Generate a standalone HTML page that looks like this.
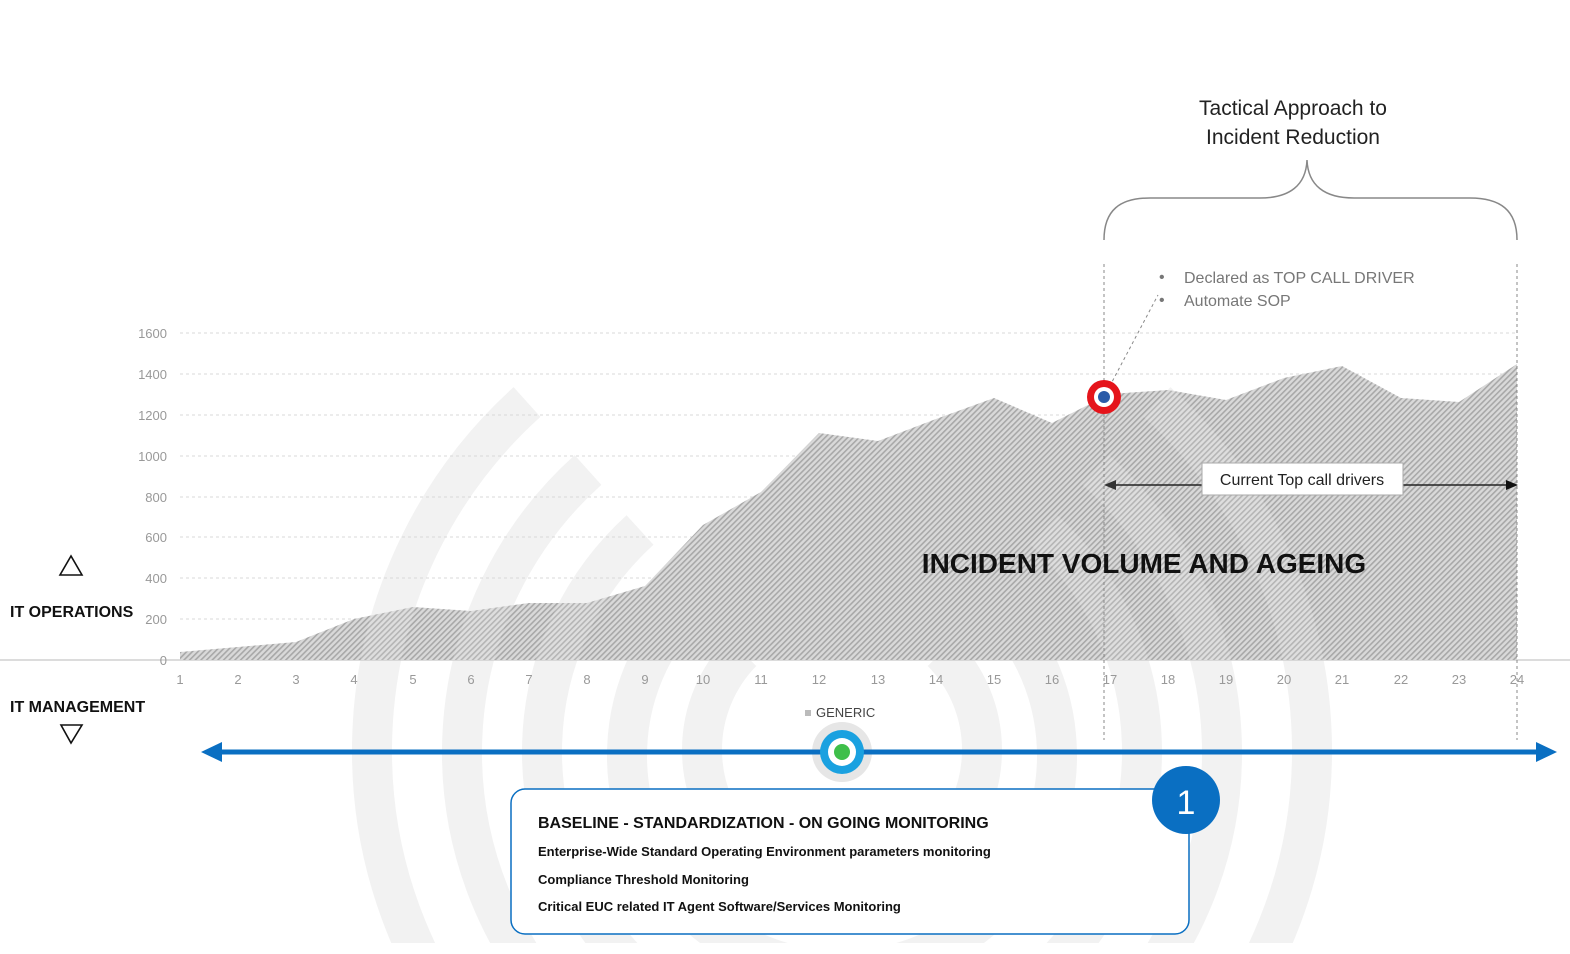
<!DOCTYPE html>
<html><head><meta charset="utf-8"><style>
html,body{margin:0;padding:0;background:#fff;width:1570px;height:954px;overflow:hidden}
svg{display:block}
text{font-family:"Liberation Sans",sans-serif}
</style></head><body>
<svg width="1570" height="954" viewBox="0 0 1570 954" xmlns="http://www.w3.org/2000/svg">
<defs>
<pattern id="h" width="4" height="4" patternUnits="userSpaceOnUse" patternTransform="rotate(45)">
<rect width="4" height="4" fill="#d9d9d9"/><rect width="1.6" height="4" fill="#a8a8a8"/>
</pattern>
<clipPath id="c"><rect x="0" y="0" width="1570" height="943"/></clipPath>
<clipPath id="a"><polygon points="180,660 180,652 238,647 296,642 354,619 413,607 471,611 529,603 587,603 645,586 703,525 761,492 819,433 878,441 936,419 994,398 1052,423 1110,394 1168,390 1226,400 1284,378 1342,366 1401,398 1459,402 1517,364 1517,660"/></clipPath>
</defs>
<g clip-path="url(#c)" fill="none" stroke="#f2f2f2" stroke-width="40">
<path d="M 527 402 A 470 470 0 1 0 1157 402"/>
<path d="M 588 470 A 380 380 0 1 0 1096 470"/>
<path d="M 640 530 A 300 300 0 1 0 1044 530"/>
<path d="M 698 596 A 215 215 0 1 0 986 596"/>
<path d="M 742 652 A 140 140 0 1 0 942 652"/>
</g>
<circle cx="842" cy="752" r="30" fill="#e6e6e6"/>
<g stroke="#d8d8d8" stroke-dasharray="3,3" stroke-width="1">
<line x1="180" y1="333" x2="1517" y2="333"/><line x1="180" y1="374" x2="1517" y2="374"/>
<line x1="180" y1="415" x2="1517" y2="415"/><line x1="180" y1="456" x2="1517" y2="456"/>
<line x1="180" y1="497" x2="1517" y2="497"/><line x1="180" y1="537" x2="1517" y2="537"/>
<line x1="180" y1="578" x2="1517" y2="578"/><line x1="180" y1="619" x2="1517" y2="619"/>
</g>
<line x1="0" y1="660" x2="1570" y2="660" stroke="#d0d0d0" stroke-width="1.5"/>
<polygon fill="url(#h)" points="180,660 180,652 238,647 296,642 354,619 413,607 471,611 529,603 587,603 645,586 703,525 761,492 819,433 878,441 936,419 994,398 1052,423 1110,394 1168,390 1226,400 1284,378 1342,366 1401,398 1459,402 1517,364 1517,660"/>
<g clip-path="url(#a)" fill="none" stroke="#fff" stroke-opacity="0.15" stroke-width="40">
<path d="M 527 402 A 470 470 0 1 0 1157 402"/>
<path d="M 588 470 A 380 380 0 1 0 1096 470"/>
<path d="M 640 530 A 300 300 0 1 0 1044 530"/>
</g>
<g font-size="13" fill="#999" text-anchor="end">
<text x="167" y="338">1600</text><text x="167" y="379">1400</text><text x="167" y="420">1200</text>
<text x="167" y="461">1000</text><text x="167" y="502">800</text><text x="167" y="542">600</text>
<text x="167" y="583">400</text><text x="167" y="624">200</text><text x="167" y="665">0</text>
</g>
<g font-size="13" fill="#999" text-anchor="middle">
<text x="180" y="684">1</text><text x="238" y="684">2</text><text x="296" y="684">3</text><text x="354" y="684">4</text>
<text x="413" y="684">5</text><text x="471" y="684">6</text><text x="529" y="684">7</text><text x="587" y="684">8</text>
<text x="645" y="684">9</text><text x="703" y="684">10</text><text x="761" y="684">11</text><text x="819" y="684">12</text>
<text x="878" y="684">13</text><text x="936" y="684">14</text><text x="994" y="684">15</text><text x="1052" y="684">16</text>
<text x="1110" y="684">17</text><text x="1168" y="684">18</text><text x="1226" y="684">19</text><text x="1284" y="684">20</text>
<text x="1342" y="684">21</text><text x="1401" y="684">22</text><text x="1459" y="684">23</text><text x="1517" y="684">24</text>
</g>
<g stroke="#888" stroke-dasharray="3,3" stroke-width="1">
<line x1="1104" y1="264" x2="1104" y2="740"/><line x1="1517" y1="264" x2="1517" y2="740"/>
<line x1="1104" y1="397" x2="1158" y2="295"/>
</g>
<path d="M1104 240 C1104 210 1120 198 1150 198 L1260 198 C1290 198 1306 185 1307 160 C1308 185 1324 198 1354 198 L1470 198 C1500 198 1517 210 1517 240" fill="none" stroke="#888" stroke-width="1.5"/>
<text x="1293" y="115" font-size="21" fill="#222" text-anchor="middle">Tactical Approach to</text>
<text x="1293" y="144" font-size="21" fill="#222" text-anchor="middle">Incident Reduction</text>
<g font-size="16" fill="#777">
<text x="1159" y="282">•</text><text x="1184" y="283">Declared as TOP CALL DRIVER</text>
<text x="1159" y="305">•</text><text x="1184" y="306">Automate SOP</text>
</g>
<circle cx="1104" cy="397" r="17" fill="#e5141b"/><circle cx="1104" cy="397" r="10" fill="#fff"/><circle cx="1104" cy="397" r="6" fill="#2a5ba8"/>
<line x1="1112" y1="485" x2="1512" y2="485" stroke="#222" stroke-width="1.5"/>
<polygon points="1104,485 1116,480 1116,490" fill="#333"/><polygon points="1518,485 1506,480 1506,490" fill="#111"/>
<rect x="1202" y="463" width="201" height="32" fill="#fff" stroke="#aaa"/>
<text x="1302" y="485" font-size="16" fill="#222" text-anchor="middle">Current Top call drivers</text>
<text x="1144" y="573" font-size="28" font-weight="bold" fill="#111" text-anchor="middle">INCIDENT VOLUME AND AGEING</text>
<polygon points="71,556 60,575 82,575" fill="none" stroke="#111" stroke-width="1.6"/>
<text x="10" y="617" font-size="16" font-weight="bold" fill="#111">IT OPERATIONS</text>
<text x="10" y="712" font-size="16" font-weight="bold" fill="#111">IT MANAGEMENT</text>
<polygon points="61,725 82,725 71,743" fill="none" stroke="#111" stroke-width="1.6"/>
<line x1="215" y1="752" x2="1540" y2="752" stroke="#0a6fc2" stroke-width="5"/>
<polygon points="201,752 222,742 222,762" fill="#0a6fc2"/><polygon points="1557,752 1536,742 1536,762" fill="#0a6fc2"/>
<text x="816" y="717" font-size="13" fill="#444">GENERIC</text>
<rect x="805" y="710" width="6" height="6" fill="#bbb"/>
<circle cx="842" cy="752" r="22" fill="#1aa1e0"/><circle cx="842" cy="752" r="14" fill="#fff"/><circle cx="842" cy="752" r="8" fill="#3fbf4a"/>
<rect x="511" y="789" width="678" height="145" rx="14" fill="#fff" stroke="#0a6fc2" stroke-width="1.5"/>
<circle cx="1186" cy="800" r="34" fill="#0a6fc2"/>
<text x="1186" y="814" font-size="34" fill="#fff" text-anchor="middle">1</text>
<g fill="#111" font-weight="bold">
<text x="538" y="828" font-size="16">BASELINE - STANDARDIZATION  - ON GOING MONITORING</text>
<text x="538" y="856" font-size="13">Enterprise-Wide  Standard Operating Environment   parameters monitoring</text>
<text x="538" y="884" font-size="13">Compliance Threshold Monitoring</text>
<text x="538" y="911" font-size="13">Critical EUC related IT Agent Software/Services Monitoring</text>
</g>
</svg>
</body></html>
